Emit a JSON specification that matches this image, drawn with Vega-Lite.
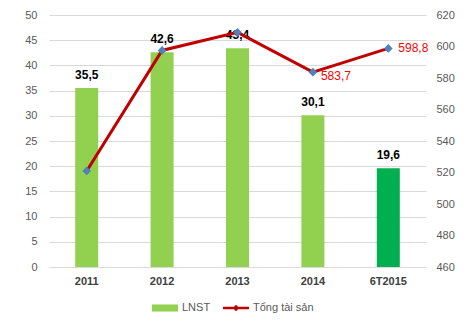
{
  "$schema": "https://vega.github.io/schema/vega-lite/v6.json",
  "width": 377,
  "height": 252,
  "autosize": {"type": "none"},
  "padding": {"left": 49, "top": 15, "right": 43, "bottom": 55},
  "background": "white",
  "config": {
    "view": {"stroke": null},
    "font": "Liberation Sans",
    "axis": {"labelColor": "#595959", "labelFontSize": 11, "gridColor": "#d9d9d9", "domain": false, "ticks": false, "title": null, "labelOverlap": false}
  },
  "data": {
    "values": [
      {"year": "2011", "lnst": 35.5, "lnstLabel": "35,5", "tts": 521, "ttsLabel": "", "s": "LNST"},
      {"year": "2012", "lnst": 42.6, "lnstLabel": "42,6", "tts": 597.5, "ttsLabel": "", "s": "LNST"},
      {"year": "2013", "lnst": 43.4, "lnstLabel": "43,4", "tts": 609, "ttsLabel": "", "s": "LNST"},
      {"year": "2014", "lnst": 30.1, "lnstLabel": "30,1", "tts": 583.7, "ttsLabel": "583,7", "s": "LNST"},
      {"year": "6T2015", "lnst": 19.6, "lnstLabel": "19,6", "tts": 598.8, "ttsLabel": "598,8", "s": "LNST"}
    ]
  },
  "encoding": {
    "x": {
      "field": "year", "type": "nominal", "sort": null,
      "scale": {"paddingInner": 0, "paddingOuter": 0},
      "axis": {"labelAngle": 0, "labelFontWeight": "bold", "labelColor": "#404040", "labelPadding": 8, "domain": true, "domainColor": "#d9d9d9", "grid": false}
    }
  },
  "resolve": {"scale": {"y": "independent"}},
  "layer": [
    {
      "layer": [
        {
          "mark": {"type": "bar", "width": 23},
          "encoding": {
            "y": {"field": "lnst", "type": "quantitative", "scale": {"domain": [0, 50]}, "axis": {"values": [0,5,10,15,20,25,30,35,40,45,50], "tickCount": 20, "labelPadding": 12, "grid": true}},
            "color": {
              "field": "s", "type": "nominal",
              "condition": {"test": "datum.year === '6T2015'", "value": "#00b050"},
              "scale": {"domain": ["LNST", "Tổng tài sản"], "range": ["#92d050", "#c00000"]},
              "legend": {
                "orient": "none", "legendX": 103, "legendY": 280, "direction": "horizontal",
                "title": null, "labelFontSize": 11, "labelColor": "#595959", "columnPadding": 12,
                "symbolSize": 676, "symbolStrokeWidth": 0, "labelOffset": 4,
                "encode": {
                  "symbols": {
                    "update": {
                      "shape": {"signal": "datum.value === 'LNST' ? 'M-1,-0.27H1V0.27H-1Z' : 'M-1,-0.1H1V0.1H-1ZM0,-0.25L0.25,0L0,0.25L-0.25,0Z'"},
                      "fill": {"signal": "datum.value === 'LNST' ? '#92d050' : '#c00000'"},
                      "strokeWidth": {"value": 0}
                    }
                  }
                }
              }
            }
          }
        },
        {
          "mark": {"type": "text", "dy": -13, "fontWeight": "bold", "fontSize": 12, "color": "black"},
          "encoding": {
            "y": {"field": "lnst", "type": "quantitative", "axis": {"values": [0,5,10,15,20,25,30,35,40,45,50], "tickCount": 20, "labelPadding": 12, "grid": true}},
            "text": {"field": "lnstLabel"}
          }
        }
      ]
    },
    {
      "layer": [
        {
          "mark": {"type": "line", "color": "#c00000", "strokeWidth": 3},
          "encoding": {
            "y": {"field": "tts", "type": "quantitative", "scale": {"domain": [460, 620]}, "axis": {"orient": "right", "values": [460,480,500,520,540,560,580,600,620], "tickCount": 20, "labelPadding": 10, "grid": false}}
          }
        },
        {
          "mark": {"type": "point", "shape": "diamond", "filled": true, "color": "#4f81bd", "size": 75, "opacity": 1},
          "encoding": {
            "y": {"field": "tts", "type": "quantitative", "axis": {"orient": "right", "values": [460,480,500,520,540,560,580,600,620], "tickCount": 20, "labelPadding": 10, "grid": false}}
          }
        },
        {
          "mark": {"type": "text", "align": "left", "dx": 8, "dy": 4, "fontSize": 12, "color": "#ff0000"},
          "transform": [{"filter": "datum.year === '2014'"}],
          "encoding": {
            "y": {"field": "tts", "type": "quantitative", "axis": {"orient": "right", "values": [460,480,500,520,540,560,580,600,620], "tickCount": 20, "labelPadding": 10, "grid": false}},
            "text": {"field": "ttsLabel"}
          }
        },
        {
          "mark": {"type": "text", "align": "left", "dx": 10, "dy": 0, "fontSize": 12, "color": "#ff0000"},
          "transform": [{"filter": "datum.year === '6T2015'"}],
          "encoding": {
            "y": {"field": "tts", "type": "quantitative", "axis": {"orient": "right", "values": [460,480,500,520,540,560,580,600,620], "tickCount": 20, "labelPadding": 10, "grid": false}},
            "text": {"field": "ttsLabel"}
          }
        }
      ]
    }
  ]
}
